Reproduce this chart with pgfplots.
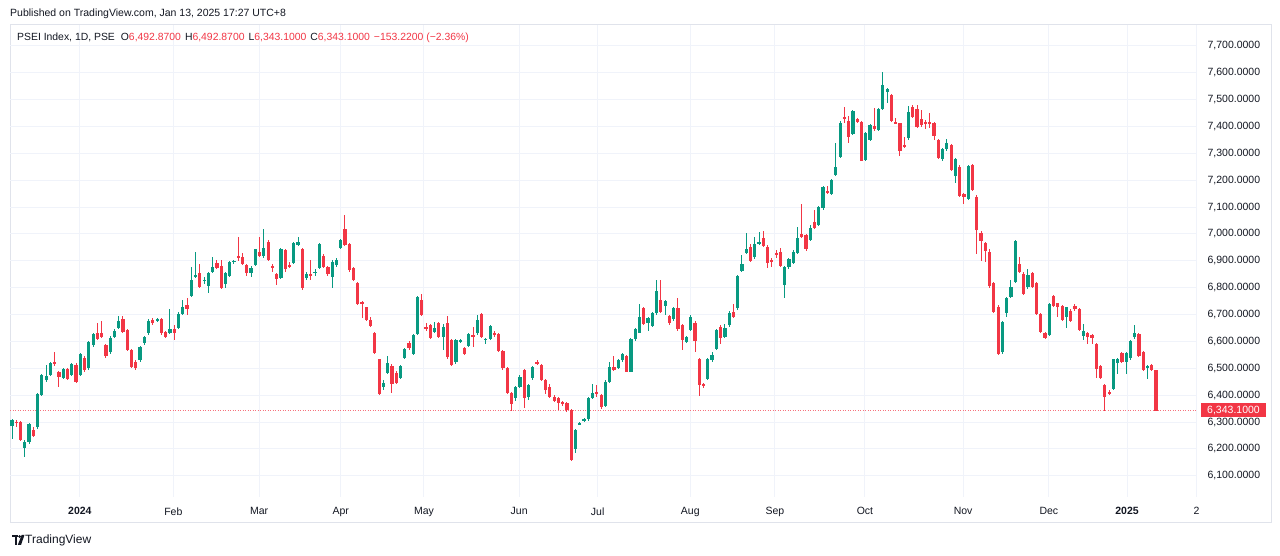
\documentclass[border=0pt]{standalone}
\usepackage{fontspec}
\setmainfont{Liberation Sans}
\usepackage{pgfplots}
\usepackage{pgfplotstable}
\pgfplotsset{compat=1.18}

\definecolor{tvgreen}{HTML}{089981}
\definecolor{tvred}{HTML}{F23645}
\definecolor{tvtext}{HTML}{131722}
\definecolor{tvgrid}{HTML}{F0F3FA}
\definecolor{tvborder}{HTML}{E0E3EB}

% PSEi daily candles, index i = trading day from mid-Dec 2023
\pgfplotstableread{
i o h l c
0 6285 6310 6236 6307
1 6302 6308 6280 6295
2 6300 6305 6228 6233
3 6202 6232 6171 6227
4 6227 6295 6220 6291
5 6270 6280 6245 6250
6 6280 6408 6275 6404
7 6400 6478 6398 6475
8 6456 6512 6450 6471
9 6475 6525 6470 6521
10 6522 6562 6510 6518
11 6487 6490 6432 6466
12 6463 6500 6460 6496
13 6497 6500 6455 6460
14 6475 6520 6470 6516
15 6512 6518 6445 6450
16 6475 6558 6470 6553
17 6540 6545 6488 6494
18 6500 6602 6495 6599
19 6587 6630 6578 6626
20 6632 6667 6605 6611
21 6630 6677 6612 6618
22 6587 6590 6540 6546
23 6562 6620 6555 6611
24 6618 6645 6612 6640
25 6652 6694 6648 6677
26 6682 6694 6630 6636
27 6642 6645 6565 6570
28 6568 6572 6500 6506
29 6525 6530 6495 6500
30 6531 6585 6525 6580
31 6593 6622 6588 6617
32 6630 6682 6625 6677
33 6680 6686 6662 6670
34 6677 6686 6672 6682
35 6682 6686 6625 6630
36 6636 6640 6612 6618
37 6632 6720 6628 6645
38 6645 6661 6605 6630
39 6650 6708 6645 6704
40 6702 6754 6698 6729
41 6735 6760 6698 6720
42 6769 6878 6765 6829
43 6842 6934 6838 6848
44 6856 6890 6800 6804
45 6825 6840 6815 6829
46 6807 6860 6780 6854
47 6860 6915 6855 6878
48 6891 6905 6868 6872
49 6881 6905 6795 6798
50 6814 6860 6800 6854
51 6844 6900 6840 6897
52 6896 6905 6890 6901
53 6918 6990 6900 6912
54 6916 6930 6885 6888
55 6885 6890 6845 6856
56 6856 6880 6840 6872
57 6885 6946 6880 6943
58 6934 6990 6915 6918
59 6918 7018 6912 6947
60 6972 6978 6898 6903
61 6882 6890 6860 6873
62 6851 6855 6810 6832
63 6835 6947 6832 6943
64 6940 6945 6860 6868
65 6885 6895 6875 6878
66 6891 6970 6888 6965
67 6959 6990 6955 6972
68 6943 6947 6792 6798
69 6835 6860 6830 6851
70 6851 6903 6830 6846
71 6854 6870 6845 6860
72 6872 6966 6868 6963
73 6918 6925 6874 6878
74 6878 6882 6845 6851
75 6839 6905 6800 6897
76 6883 6910 6878 6903
77 6947 6982 6943 6978
78 7017 7070 6955 6959
79 6963 6968 6860 6866
80 6872 6878 6825 6829
81 6816 6820 6736 6740
82 6748 6752 6686 6740
83 6727 6730 6675 6680
84 6680 6690 6652 6658
85 6630 6635 6555 6558
86 6533 6535 6400 6403
87 6429 6455 6420 6446
88 6482 6545 6478 6521
89 6509 6515 6408 6442
90 6484 6490 6440 6444
91 6463 6512 6460 6509
92 6537 6575 6535 6571
93 6596 6600 6570 6574
94 6553 6628 6548 6624
95 6628 6770 6625 6767
96 6754 6775 6695 6698
97 6655 6670 6640 6645
98 6661 6665 6608 6612
99 6637 6672 6630 6651
100 6667 6672 6612 6618
101 6618 6665 6570 6655
102 6670 6693 6536 6541
103 6605 6610 6508 6512
104 6522 6610 6515 6605
105 6600 6610 6595 6605
106 6574 6578 6548 6553
107 6583 6632 6578 6628
108 6624 6655 6580 6618
109 6630 6700 6625 6680
110 6702 6706 6612 6618
111 6607 6612 6590 6611
112 6608 6662 6604 6658
113 6633 6638 6615 6624
114 6628 6632 6560 6566
115 6566 6570 6495 6500
116 6500 6505 6405 6409
117 6409 6413 6342 6367
118 6388 6435 6380 6430
119 6430 6475 6425 6469
120 6494 6498 6352 6389
121 6395 6442 6382 6438
122 6463 6510 6458 6506
123 6525 6530 6512 6516
124 6512 6516 6453 6457
125 6457 6461 6405 6418
126 6430 6440 6390 6394
127 6394 6400 6375 6380
128 6388 6392 6345 6370
129 6376 6380 6360 6367
130 6370 6375 6338 6345
131 6345 6350 6155 6158
132 6198 6275 6183 6270
133 6290 6300 6288 6296
134 6304 6315 6300 6310
135 6310 6392 6305 6388
136 6388 6442 6385 6409
137 6411 6437 6395 6405
138 6400 6405 6350 6357
139 6360 6455 6355 6450
140 6450 6525 6445 6506
141 6506 6545 6490 6494
142 6500 6535 6496 6531
143 6531 6558 6525 6553
144 6546 6550 6485 6488
145 6488 6612 6485 6608
146 6608 6650 6600 6645
147 6633 6740 6630 6690
148 6723 6728 6660 6665
149 6668 6690 6640 6686
150 6658 6710 6655 6705
151 6707 6828 6700 6789
152 6754 6828 6705 6711
153 6732 6756 6700 6752
154 6695 6700 6662 6667
155 6682 6728 6678 6723
156 6723 6760 6640 6645
157 6660 6665 6570 6605
158 6599 6620 6595 6615
159 6643 6700 6638 6692
160 6670 6675 6562 6603
161 6533 6540 6397 6438
162 6442 6445 6425 6434
163 6459 6540 6455 6533
164 6531 6560 6525 6550
165 6571 6648 6568 6643
166 6655 6660 6590 6612
167 6618 6665 6612 6649
168 6661 6712 6655 6705
169 6711 6740 6688 6692
170 6723 6847 6718 6843
171 6864 6920 6860 6888
172 6928 7002 6925 6943
173 6953 6962 6895 6900
174 6913 6990 6908 6963
175 6965 7007 6960 6971
176 6984 7012 6950 6957
177 6953 6960 6875 6891
178 6903 6910 6878 6897
179 6928 6940 6910 6922
180 6934 6947 6878 6881
181 6810 6882 6760 6878
182 6876 6910 6870 6906
183 6891 6940 6888 6934
184 6931 7025 6926 6984
185 7000 7110 6984 6988
186 6996 7000 6938 6943
187 6978 7035 6973 7021
188 7046 7090 7018 7021
189 7034 7106 7030 7102
190 7096 7178 7090 7174
191 7162 7180 7150 7154
192 7149 7205 7145 7201
193 7220 7338 7215 7251
194 7288 7420 7284 7415
195 7434 7474 7412 7427
196 7422 7440 7338 7362
197 7372 7463 7368 7459
198 7427 7432 7412 7418
199 7418 7422 7270 7273
200 7276 7380 7272 7377
201 7350 7410 7345 7405
202 7402 7468 7385 7390
203 7387 7468 7382 7464
204 7464 7604 7460 7555
205 7530 7542 7489 7538
206 7518 7522 7418 7422
207 7418 7430 7408 7412
208 7412 7415 7290 7310
209 7331 7360 7320 7325
210 7356 7475 7350 7456
211 7472 7480 7430 7437
212 7465 7480 7395 7400
213 7427 7460 7400 7406
214 7418 7425 7390 7410
215 7416 7450 7395 7410
216 7412 7418 7350 7365
217 7350 7355 7278 7282
218 7278 7320 7270 7315
219 7315 7355 7310 7340
220 7331 7335 7234 7238
221 7216 7282 7190 7278
222 7251 7255 7138 7142
223 7149 7152 7110 7137
224 7129 7258 7125 7253
225 7257 7262 7160 7164
226 7139 7145 6925 7015
227 7005 7010 6900 6975
228 6965 6970 6895 6938
229 6934 6945 6800 6806
230 6816 6820 6705 6711
231 6730 6735 6548 6553
232 6562 6678 6555 6674
233 6705 6765 6690 6760
234 6766 6830 6760 6804
235 6822 6978 6818 6975
236 6888 6915 6855 6860
237 6853 6857 6772 6777
238 6801 6870 6795 6847
239 6853 6857 6800 6804
240 6819 6822 6698 6702
241 6702 6705 6632 6636
242 6633 6637 6608 6612
243 6624 6743 6620 6739
244 6769 6773 6728 6732
245 6742 6745 6690 6730
246 6732 6736 6676 6680
247 6690 6730 6650 6727
248 6715 6720 6673 6677
249 6732 6740 6715 6720
250 6720 6724 6640 6643
251 6620 6665 6605 6640
252 6630 6635 6590 6615
253 6624 6628 6590 6612
254 6590 6594 6465 6496
255 6508 6512 6460 6463
256 6438 6442 6340 6392
257 6413 6418 6400 6404
258 6422 6536 6418 6533
259 6521 6540 6480 6533
260 6558 6562 6520 6525
261 6525 6560 6478 6556
262 6537 6607 6532 6603
263 6618 6661 6610 6633
264 6628 6632 6542 6546
265 6562 6565 6490 6494
266 6500 6512 6460 6509
267 6512 6516 6490 6494
268 6492.87 6492.87 6343.1 6343.1
}\candles

\pgfplotsset{
  up/.style={restrict expr to domain={\thisrow{c}-\thisrow{o}}{0:100000}},
  down/.style={restrict expr to domain={\thisrow{c}-\thisrow{o}}{-100000:-0.0001}},
  wick/.style={draw=none, mark=none, forget plot,
    /pgfplots/error bars/y dir=both,
    /pgfplots/error bars/y explicit,
    /pgfplots/error bars/error mark=none,
    /pgfplots/error bars/error bar style={line width=1pt, draw=#1, solid}},
  body/.style={draw=none, mark=none, forget plot,
    /pgfplots/error bars/y dir=both,
    /pgfplots/error bars/y explicit,
    /pgfplots/error bars/error mark=none,
    /pgfplots/error bars/error bar style={line width=3.2pt, draw=#1, solid}},
}

\begin{document}
\begin{tikzpicture}[x=1pt, y=1pt]
\useasboundingbox (0,0) rectangle (1280,556);
\fill[white] (0,0) rectangle (1280,556);
\draw[tvborder, line width=1pt] (10,33) rectangle (1271,531);

\begin{axis}[
    at={(10pt,59pt)}, anchor=south west,
    scale only axis, width=1187pt, height=472pt,
    xmin=-0.47, xmax=277.6,
    ymin=6021, ymax=7778,
    axis line style={draw=none},
    major tick length=0pt,
    xtick={15.9,37.8,57.9,77.0,96.5,118.8,137.2,158.9,178.7,199.8,222.8,242.9,261.2,277.5},
    xticklabels={\textbf{2024},Feb,Mar,Apr,May,Jun,Jul,Aug,Sep,Oct,Nov,Dec,\textbf{2025},2},
    ytick={6100,6200,...,7700},
    yticklabel pos=right,
    grid=major,
    grid style={tvgrid, line width=1pt},
    ticklabel style={font=\fontsize{10.5}{12}\selectfont, text=tvtext},
    xticklabel style={yshift=-7pt},
    yticklabel style={xshift=7pt,
      /pgf/number format/fixed,
      /pgf/number format/fixed zerofill,
      /pgf/number format/precision=4,
      /pgf/number format/1000 sep={,},
      /pgf/number format/assume math mode=true},
]
\addplot[tvred!70, dash pattern=on 1pt off 1.5pt, line width=0.8pt, forget plot]
  coordinates {(-1,6343.1) (280,6343.1)};

\addplot[up, wick=tvgreen] table[x=i, y expr={(\thisrow{h}+\thisrow{l})/2}, y error expr={(\thisrow{h}-\thisrow{l})/2}] {\candles};
\addplot[down, wick=tvred] table[x=i, y expr={(\thisrow{h}+\thisrow{l})/2}, y error expr={(\thisrow{h}-\thisrow{l})/2}] {\candles};
\addplot[up, body=tvgreen] table[x=i, y expr={(\thisrow{o}+\thisrow{c})/2}, y error expr={abs(\thisrow{c}-\thisrow{o})/2}] {\candles};
\addplot[down, body=tvred] table[x=i, y expr={(\thisrow{o}+\thisrow{c})/2}, y error expr={abs(\thisrow{c}-\thisrow{o})/2}] {\candles};

\coordinate (cp) at (axis cs:277.6,6343.1);
\end{axis}

\node[fill=tvred, text=white, anchor=west, inner xsep=6.5pt, inner ysep=0pt,
  minimum height=14pt, font=\fontsize{10.5}{12}\selectfont] at ([xshift=3.5pt]cp) {6,343.1000};

\node[anchor=west, inner sep=0pt, text=tvtext, font=\fontsize{10.5}{13}\selectfont]
  at (10,542) {Published on TradingView.com, Jan 13, 2025 17:27 UTC+8};
\node[anchor=west, inner sep=0pt, text=tvtext, font=\fontsize{10.4}{13}\selectfont]
  at (17,518) {PSEI Index, 1D, PSE\hspace{6pt}O\textcolor{tvred}{6,492.8700}\hspace{4pt}H\textcolor{tvred}{6,492.8700}\hspace{4pt}L\textcolor{tvred}{6,343.1000}\hspace{4pt}C\textcolor{tvred}{6,343.1000}\hspace{4pt}\textcolor{tvred}{−153.2200 (−2.36\%)}};

% TradingView logo
\fill[tvtext] (12,18.5) rectangle (18,21);
\fill[tvtext] (14.5,11) rectangle (17,21);
\fill[tvtext] (19.6,19.4) circle (1.5);
\fill[tvtext] (17.8,11) -- (21,11) -- (24.5,21) -- (21.6,21) -- cycle;
\node[anchor=west, inner sep=0pt, text=tvtext, font=\fontsize{12}{14}\selectfont]
  at (25,15.5) {TradingView};
\end{tikzpicture}
\end{document}
